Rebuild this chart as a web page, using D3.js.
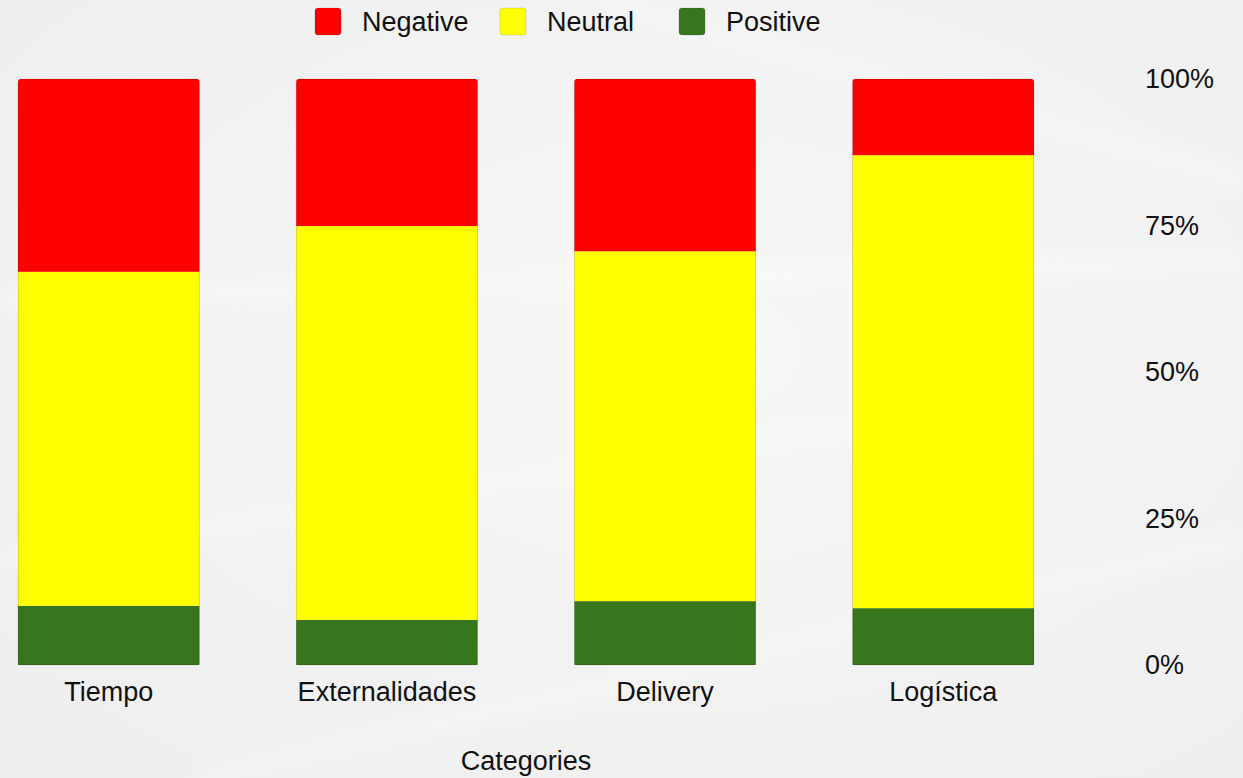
<!DOCTYPE html>
<html>
<head>
<meta charset="utf-8">
<script src="https://cdn.jsdelivr.net/npm/d3@7"></script>
<style>
  html, body { margin: 0; padding: 0; background: #f3f3f3; }
  svg { display: block; font-family: "Liberation Sans", Arial, sans-serif; }
</style>
</head>
<body>
<svg id="chart" width="1243" height="778"></svg>
<script>
const categories = ["Tiempo", "Externalidades", "Delivery", "Logística"];
const seriesNames = ["Positive", "Neutral", "Negative"];
const positive = [0.101, 0.077, 0.109, 0.097];
const neutral  = [0.570, 0.672, 0.597, 0.773];
const negative = [0.329, 0.251, 0.294, 0.130];
const yTicks = [0, 0.25, 0.5, 0.75, 1];
const legendOrder = ["Negative", "Neutral", "Positive"];
const colors = { Negative: "#ff0000", Neutral: "#ffff00", Positive: "#38761d" };

const W = 1243, H = 778;
const FS = 27;
const svg = d3.select("#chart");

// paper-like background
const defs = svg.append("defs");
const bg = defs.append("radialGradient").attr("id", "bgGrad").attr("cx", "55%").attr("cy", "45%").attr("r", "75%");
bg.append("stop").attr("offset", "0%").attr("stop-color", "#f7f7f7");
bg.append("stop").attr("offset", "100%").attr("stop-color", "#eeeeee");
svg.append("rect").attr("width", W).attr("height", H).attr("fill", "url(#bgGrad)");
const blur = defs.append("filter").attr("id", "soft").attr("x", "-10%").attr("y", "-50%").attr("width", "120%").attr("height", "200%");
blur.append("feGaussianBlur").attr("stdDeviation", 8);
const streaks = [[0,300,1243,260,0.35],[0,560,900,420,0.3],[200,778,1243,540,0.25],[600,0,1243,180,0.3]];
streaks.forEach(s => {
  svg.append("line").attr("x1", s[0]).attr("y1", s[1]).attr("x2", s[2]).attr("y2", s[3])
    .attr("stroke", "#ffffff").attr("stroke-width", 20).attr("opacity", s[4]).attr("filter", "url(#soft)");
});

const data = categories.map((c, i) => ({ category: c, Positive: positive[i], Neutral: neutral[i], Negative: negative[i] }));
const stacked = d3.stack().keys(seriesNames)(data);

const x = d3.scaleBand().domain(categories).range([18, 1034]).paddingInner(0.347).paddingOuter(0);
const y = d3.scaleLinear().domain([0, 1]).range([665, 79]);

// clip paths for rounded top corners
categories.forEach((c, i) => {
  defs.append("clipPath").attr("id", "clip" + i)
    .append("rect")
    .attr("x", x(c)).attr("y", y(1))
    .attr("width", x.bandwidth()).attr("height", y(0) - y(1) + 6)
    .attr("rx", 3).attr("ry", 3);
});

const barsG = svg.append("g");
categories.forEach((c, i) => {
  const g = barsG.append("g").attr("clip-path", "url(#clip" + i + ")");
  stacked.forEach(layer => {
    const d = layer[i];
    g.append("rect")
      .attr("x", x(c)).attr("y", y(d[1]))
      .attr("width", x.bandwidth()).attr("height", y(d[0]) - y(d[1]))
      .attr("fill", colors[layer.key]);
  });
  barsG.append("rect")
    .attr("x", x(c) + 0.25).attr("y", y(1) + 0.25)
    .attr("width", x.bandwidth() - 0.5).attr("height", y(0) - y(1) - 0.5)
    .attr("rx", 3).attr("fill", "none")
    .attr("stroke", "rgba(0,0,0,0.25)").attr("stroke-width", 0.6);
});

// bottom axis
const xAxis = svg.append("g").attr("transform", `translate(0,${y(0)})`)
  .call(d3.axisBottom(x).tickSize(0).tickPadding(17));
xAxis.select(".domain").remove();
xAxis.selectAll("text").attr("font-size", FS).attr("fill", "#111")
  .attr("font-family", "Liberation Sans, Arial, sans-serif");

// right axis
const yAxis = svg.append("g").attr("transform", "translate(1145,0)")
  .call(d3.axisRight(y).tickValues(yTicks).tickFormat(d3.format(".0%")).tickSize(0).tickPadding(0));
yAxis.select(".domain").remove();
yAxis.selectAll("text").attr("font-size", FS).attr("fill", "#111")
  .attr("font-family", "Liberation Sans, Arial, sans-serif");

// axis title
svg.append("text").attr("x", (x.range()[0] + x.range()[1]) / 2).attr("y", 770)
  .attr("text-anchor", "middle").attr("font-size", FS).attr("fill", "#111")
  .text("Categories");

// legend
const legendX = [315, 500, 679];
const legend = svg.append("g");
legendOrder.forEach((k, i) => {
  const g = legend.append("g").attr("transform", `translate(${legendX[i]},8)`);
  g.append("rect").attr("width", 26).attr("height", 27).attr("rx", 3)
    .attr("fill", colors[k]).attr("stroke", "rgba(0,0,0,0.15)").attr("stroke-width", 0.8);
  g.append("text").attr("x", 47).attr("y", 13.5).attr("dy", "0.35em")
    .attr("font-size", FS).attr("fill", "#111").text(k);
});
</script>
</body>
</html>
